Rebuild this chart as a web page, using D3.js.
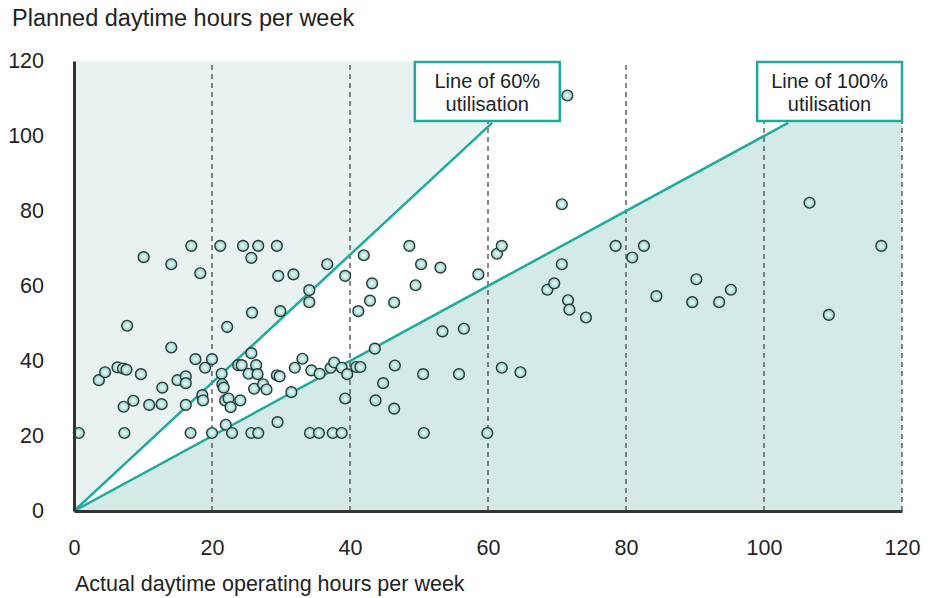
<!DOCTYPE html>
<html>
<head>
<meta charset="utf-8">
<script src="https://cdnjs.cloudflare.com/ajax/libs/d3/7.8.5/d3.min.js"></script>
<style>
  body { margin: 0; background: #fff; }
  text { font-family: "Liberation Sans", Arial, Helvetica, sans-serif; fill: #222; }
</style>
</head>
<body>
<div class="chart"></div>
<script>
// actual daytime operating hours per week
var actual = [10.1, 14.1, 17.0, 18.3, 7.7, 21.2, 24.5, 26.7, 29.4, 25.7,
    29.6, 31.8, 36.7, 39.3, 34.1, 34.1, 25.8, 29.9, 22.2, 42.0,
    48.6, 50.3, 53.1, 58.6, 61.3, 62.0, 43.2, 49.5, 42.9, 41.2,
    46.4, 53.4, 56.5, 0.7, 7.3, 16.9, 3.6, 4.5, 6.3, 7.1,
    7.6, 9.7, 14.1, 7.2, 8.6, 10.9, 12.7, 12.8, 15.0, 16.2,
    16.2, 17.6, 19.0, 20.0, 16.2, 18.6, 18.7, 20.0, 21.4, 21.5,
    21.7, 21.9, 22.4, 22.7, 24.1, 22.0, 22.9, 25.7, 23.8, 24.3,
    26.4, 25.3, 26.6, 26.1, 27.4, 27.9, 29.4, 29.8, 32.0, 33.1,
    31.5, 29.5, 25.7, 26.7, 34.4, 35.6, 37.2, 37.7, 38.8, 39.6,
    39.3, 34.2, 35.5, 37.5, 38.8, 43.6, 40.9, 41.5, 46.5, 50.6,
    55.8, 62.0, 44.8, 43.7, 46.4, 50.7, 59.9, 70.7, 68.6, 69.6,
    71.6, 71.8, 74.2, 64.7, 71.5, 70.7, 78.5, 80.9, 82.6, 106.6,
    117.0, 90.2, 84.4, 89.6, 93.5, 95.2, 109.4];

// planned daytime hours per week
var planned = [67.7, 65.8, 70.7, 63.4, 49.4, 70.7, 70.7, 70.7, 70.7, 67.5,
    62.7, 63.1, 65.8, 62.7, 58.9, 55.7, 52.9, 53.3, 49.1, 68.2,
    70.7, 65.8, 64.9, 63.1, 68.6, 70.7, 60.7, 60.2, 56.1, 53.3,
    55.6, 47.9, 48.6, 20.8, 20.8, 20.8, 34.9, 37.0, 38.3, 38.0,
    37.7, 36.5, 43.6, 27.8, 29.4, 28.3, 28.5, 32.9, 34.9, 35.9,
    34.1, 40.5, 38.2, 40.5, 28.3, 30.9, 29.5, 20.8, 36.6, 33.8,
    32.9, 29.5, 30.0, 27.7, 29.5, 23.0, 20.8, 42.1, 38.9, 38.9,
    38.9, 36.6, 36.5, 32.6, 33.8, 32.4, 36.2, 35.9, 38.2, 40.6,
    31.7, 23.7, 20.8, 20.8, 37.5, 36.6, 38.2, 39.6, 38.2, 36.5,
    30.0, 20.8, 20.8, 20.8, 20.8, 43.3, 38.4, 38.4, 38.8, 36.5,
    36.5, 38.2, 34.1, 29.5, 27.3, 20.8, 20.8, 65.8, 59.0, 60.7,
    56.2, 53.7, 51.6, 37.0, 110.8, 81.8, 70.7, 67.6, 70.7, 82.2,
    70.7, 61.8, 57.3, 55.7, 55.7, 59.0, 52.3];

var xTicks = [0, 20, 40, 60, 80, 100, 120];
var yTicks = [0, 20, 40, 60, 80, 100, 120];
var gridLines = [20, 40, 60, 80, 100, 120];
// end points of the utilisation lines as drawn (actual, planned), they start at 0,0
var lineEnds = [[60.6, 103.5], [103.5, 103.5]];
var utilisationLabels = ["Line of 60%", "Line of 100%"];

var svg = d3.select(".chart")
    .append("svg")
    .attr("width", 932)
    .attr("height", 598),
    margin = { top: 61, right: 30, bottom: 87, left: 74 };

var width = 932 - margin.left - margin.right,
    height = 598 - margin.top - margin.bottom,
    g = svg.append("g").attr("transform", "translate(" + margin.left + "," + margin.top + ")");

var x = d3.scaleLinear().domain([0, 120]).range([0, width]);
var y = d3.scaleLinear().domain([0, 120]).range([height, 0]);

var fontSize = "21.5px";

var defs = svg.append("defs");
var grad = defs.append("radialGradient").attr("id", "dot");
grad.append("stop").attr("offset", "0%").attr("stop-color", "#ffffff");
grad.append("stop").attr("offset", "35%").attr("stop-color", "#cdeee9");
grad.append("stop").attr("offset", "100%").attr("stop-color", "#86cec5");

var area = d3.line().x(function(d) { return x(d[0]); }).y(function(d) { return y(d[1]); });

// shaded zones: above the 60% line and below the 100% line
var topX = 120 * lineEnds[0][0] / lineEnds[0][1];
g.append("path")
    .datum([[0, 0], [topX, 120], [0, 120]])
    .attr("d", function(d) { return area(d) + "Z"; })
    .attr("fill", "#e8f3f1");
g.append("path")
    .datum([[0, 0], [120, 120], [120, 0]])
    .attr("d", function(d) { return area(d) + "Z"; })
    .attr("fill", "#d4eae7");

g.append("g")
    .selectAll("line")
    .data(gridLines)
    .enter().append("line")
    .attr("x1", function(d) { return x(d); })
    .attr("x2", function(d) { return x(d); })
    .attr("y1", y(0))
    .attr("y2", y(120))
    .attr("stroke", "#3a3a3a")
    .attr("stroke-width", 1.2)
    .attr("stroke-dasharray", "5,4");

g.append("g")
    .selectAll("line")
    .data(lineEnds)
    .enter().append("line")
    .attr("x1", x(0))
    .attr("y1", y(0))
    .attr("x2", function(d) { return x(d[0]); })
    .attr("y2", function(d) { return y(d[1]); })
    .attr("stroke", "#1fab9c")
    .attr("stroke-width", 2.5);

g.append("g")
    .selectAll("circle")
    .data(actual.map(function(d, i) { return [d, planned[i]]; }))
    .enter().append("circle")
    .attr("cx", function(d) { return x(d[0]); })
    .attr("cy", function(d) { return y(d[1]); })
    .attr("r", 5.4)
    .attr("fill", "url(#dot)")
    .attr("stroke", "#2b3836")
    .attr("stroke-width", 1.4);

var xAxis = g.append("g")
    .attr("transform", "translate(0," + height + ")")
    .call(d3.axisBottom(x).tickValues(xTicks).tickSize(0).tickPadding(29));
var yAxis = g.append("g")
    .call(d3.axisLeft(y).tickValues(yTicks).tickSize(0).tickPadding(30));

[xAxis, yAxis].forEach(function(a) {
    a.select(".domain").attr("stroke", "#333").attr("stroke-width", 3);
    a.selectAll("text")
        .style("font-family", "'Liberation Sans', Arial, sans-serif")
        .style("font-size", fontSize)
        .attr("fill", "#222");
});

// label boxes for the two lines
var boxes = [[49.4, 70.4], [99.0, 120]];
boxes.forEach(function(b, i) {
    var bx = x(b[0]), bw = x(b[1]) - x(b[0]);
    var box = g.append("g").attr("transform", "translate(" + bx + "," + y(120) + ")");
    box.append("rect")
        .attr("x", 0)
        .attr("y", 1)
        .attr("width", bw)
        .attr("height", 59)
        .attr("fill", "#fff")
        .attr("stroke", "#1fab9c")
        .attr("stroke-width", 2.5);
    box.append("text")
        .attr("x", bw / 2)
        .attr("y", 27)
        .attr("text-anchor", "middle")
        .style("font-size", "20px")
        .text(utilisationLabels[i]);
    box.append("text")
        .attr("x", bw / 2)
        .attr("y", 50)
        .attr("text-anchor", "middle")
        .style("font-size", "20px")
        .text("utilisation");
});

svg.append("text")
    .attr("x", 12)
    .attr("y", 26)
    .style("font-size", "23.5px")
    .text("Planned daytime hours per week");

svg.append("text")
    .attr("x", 75)
    .attr("y", 591)
    .style("font-size", fontSize)
    .text("Actual daytime operating hours per week");
</script>
</body>
</html>
